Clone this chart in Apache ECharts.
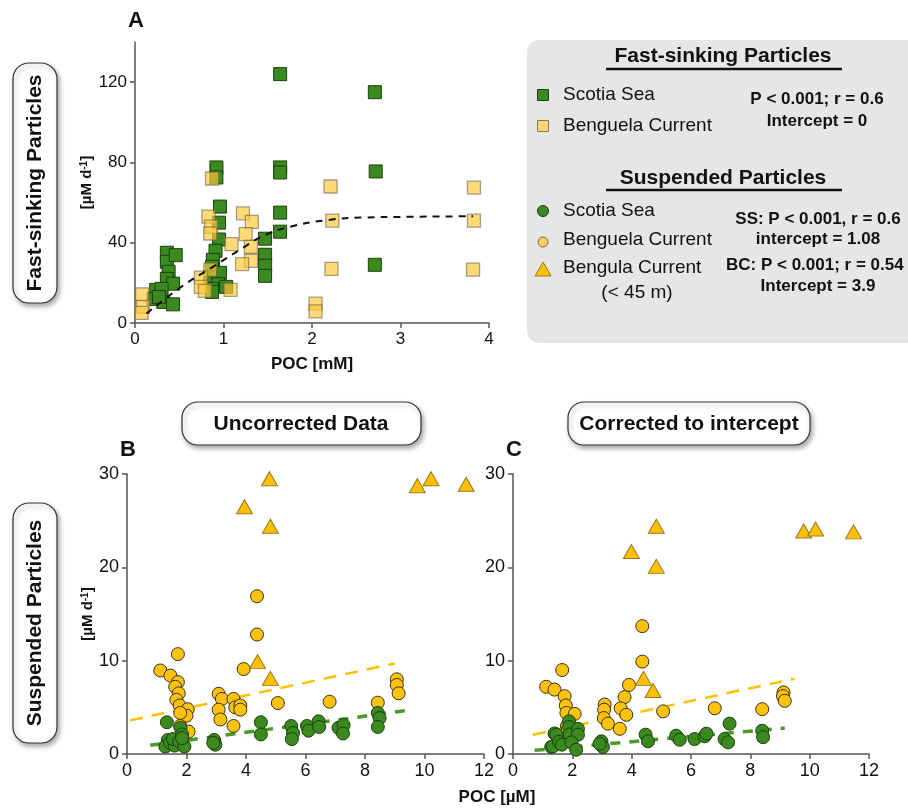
<!DOCTYPE html>
<html>
<head>
<meta charset="utf-8">
<script src="https://cdn.jsdelivr.net/npm/echarts@6/dist/echarts.min.js"></script>
<style>html,body{margin:0;padding:0;background:#fff;}#c{width:908px;height:808px;}</style>
</head>
<body>
<div id="c"></div>
<script>
// ---------- Panel A: fast-sinking particles (POC [mM] vs µM d-1) ----------
const fastScotia = [[1.64,124],[2.71,115],[1.64,77.5],[1.64,75],[2.72,75.5],[1.64,55],[1.64,45.5],[2.71,29],
  [1.47,42],[1.47,34],[1.47,28.5],[1.47,23.5],
  [0.92,77.5],[0.92,72.5],[0.96,58],[0.95,50],[0.95,41.6],[0.91,36],[0.88,31.5],[0.87,28],[0.96,25],[0.85,23],
  [0.94,19.3],[0.87,17],[1.03,18],[0.87,15.5],
  [0.36,35],[0.36,30.5],[0.46,33.8],[0.38,25.5],[0.36,22],[0.43,19.6],[0.24,16.5],[0.21,12],[0.32,10.5],[0.43,9.3],[0.3,17],[0.27,13]];
const fastBenguela = [[0.87,72],[0.83,53],[0.86,48],[0.85,44.6],[1.22,54.6],[1.32,50.4],[1.25,44.3],[1.09,39.3],[1.31,38],
  [1.31,31],[1.21,29.3],[0.85,26.6],[0.745,22.6],[0.745,18],[0.79,16],[1.08,16.5],[0.08,14.3],[0.09,8],[0.075,5],
  [2.21,68],[2.23,51],[2.22,27],[3.83,67.4],[3.83,51],[3.82,26.6],[2.04,9.7],[2.04,5.8]];
const fastFit = [[0.13,4.7],[0.51,17.6],[0.88,28],[1.19,36.6],[1.45,43.4],[1.75,47.9],[2.16,51.2],[2.61,52.6],[3.07,52.9],[3.82,53.2]];

// ---------- Panel B: suspended particles, uncorrected (POC [µM]) ----------
const uncScotia = [[1.34,3.4],[1.37,1.5],[1.29,0.8],[1.45,1.2],[1.6,0.9],[1.55,1.6],[1.8,2.8],[1.85,2.1],[1.75,1.4],
  [1.93,0.8],[1.85,1.7],[2.93,1.5],[2.97,1.0],[2.9,1.2],[4.5,3.4],[4.5,2.1],[5.52,3.0],[5.58,2.25],[5.54,1.6],
  [6.05,3.0],[6.1,2.5],[6.44,3.5],[6.46,2.9],[7.11,2.8],[7.28,3.1],[7.26,2.2],[8.43,4.4],[8.49,3.85],[8.43,2.9]];
const uncBenguela = [[1.12,8.95],[1.46,8.4],[1.71,10.7],[1.71,7.7],[1.62,7.2],[1.74,6.5],[1.66,5.8],[1.77,5.2],[2.04,4.8],
  [2.0,4.1],[1.79,4.4],[1.79,3.0],[2.07,2.4],[1.79,1.7],[3.08,6.45],[3.19,5.9],[3.08,4.75],[3.14,3.7],[3.58,5.9],
  [3.64,5.0],[3.81,5.2],[3.81,4.75],[3.58,3.0],[3.92,9.1],[4.37,16.9],[4.37,12.8],[5.07,5.46],[6.81,5.6],[8.43,5.5],
  [9.07,8.0],[9.07,7.4],[9.13,6.5]];
const uncShallow = [[3.95,26.5],[4.79,29.5],[4.82,24.4],[4.39,9.9],[4.82,8.1],[9.76,28.75],[10.22,29.5],[11.4,28.9]];
const uncFitBC = [[0.1,3.6],[9.0,9.7]];
const uncFitSS = [[0.78,0.93],[9.41,4.67]];

// ---------- Panel C: suspended particles, corrected to intercept ----------
const corScotia = [[1.4,2.2],[1.29,0.75],[1.46,2.07],[1.35,0.82],[1.55,1.3],[1.65,1.0],[1.89,3.5],[1.89,2.9],[1.91,2.1],
  [2.19,2.7],[2.19,2.07],[1.97,1.25],[2.13,0.46],[2.98,1.36],[3.03,0.75],[2.92,1.1],[4.47,2.07],[4.55,1.36],[5.5,1.96],
  [5.62,1.53],[6.12,1.6],[6.46,1.9],[6.52,2.18],[7.13,1.6],[7.25,1.25],[7.3,3.25],[8.4,2.5],[8.43,1.8]];
const corBenguela = [[1.12,7.2],[1.4,6.9],[1.66,9.0],[1.74,6.2],[1.78,5.2],[1.8,4.4],[2.08,4.3],[1.82,3.0],[1.78,1.7],
  [1.85,2.6],[3.09,5.3],[3.07,4.75],[3.06,3.85],[3.2,3.25],[3.76,6.1],[3.63,4.9],[3.82,4.2],[3.6,2.7],[3.91,7.4],
  [4.36,13.7],[4.36,9.9],[5.06,4.57],[6.8,4.9],[8.4,4.8],[9.12,6.6],[9.1,6.2],[9.16,5.7]];
const corShallow = [[3.99,21.7],[4.83,24.4],[4.83,20.1],[4.40,8.1],[4.72,6.8],[9.8,23.9],[10.2,24.1],[11.48,23.8]];
const corFitBC = [[0.67,2.07],[9.49,8.06]];
const corFitSS = [[0.73,0.39],[9.16,2.78]];

// ---------- tick labels ----------
const ticksAX = [0,1,2,3,4];
const ticksAY = [0,40,80,120];
const ticksBX = [0,2,4,6,8,10,12];
const ticksBY = [0,10,20,30];

const FONT = '"Liberation Sans", Arial, sans-serif';
const GREEN = '#3b8a1f', GREEN_B = '#1c3f0e';
const GOLD = '#ffc20f';

function axisStyle(extra) {
  return Object.assign({
    axisLine: {show: true, lineStyle: {color: '#555', width: 1.5}},
    axisTick: {show: true, length: 5, lineStyle: {color: '#555', width: 1.5}},
    splitLine: {show: false},
    axisLabel: {color: '#111', fontSize: 17, fontFamily: FONT, margin: 8}
  }, extra);
}
const supName = {
  fontFamily: FONT, fontWeight: 'bold', fontSize: 15, color: '#111',
  rich: {sup: {fontSize: 10, fontWeight: 'bold', fontFamily: FONT, color: '#111', verticalAlign: 'top'}}
};

const chart = echarts.init(document.getElementById('c'), null, {renderer: 'canvas'});

function t(x, y, text, font, align, rot) {
  return {type: 'text', x: x, y: y, rotation: rot || 0, z: 20,
    style: {text: text, font: font, fill: '#111', textAlign: align || 'center', textVerticalAlign: 'middle',
            align: align || 'center', verticalAlign: 'middle'}};
}
function box(x, y, w, h, r) {
  return {type: 'rect', z: 5, shape: {x: x, y: y, width: w, height: h, r: r},
    style: {fill: '#fff', stroke: '#333', lineWidth: 1.2, shadowBlur: 5, shadowOffsetX: 2, shadowOffsetY: 3, shadowColor: 'rgba(0,0,0,0.35)'}};
}
const B21 = 'bold 21px ' + FONT, R19 = '19px ' + FONT, B17 = 'bold 17px ' + FONT, B22 = 'bold 22px ' + FONT;

const graphics = [
  // legend panel
  {type: 'rect', z: 1, shape: {x: 527, y: 40, width: 420, height: 303, r: 12}, style: {fill: '#e6e6e6'}},
  t(723, 56, 'Fast-sinking Particles', B21),
  {type: 'line', z: 20, shape: {x1: 606, y1: 69, x2: 842, y2: 69}, style: {stroke: '#111', lineWidth: 2.5}},
  {type: 'rect', z: 20, shape: {x: 537.5, y: 89.5, width: 11, height: 11}, style: {fill: GREEN, stroke: GREEN_B, lineWidth: 1}},
  {type: 'rect', z: 20, shape: {x: 537.5, y: 120.5, width: 11, height: 11}, style: {fill: '#ffd873', stroke: '#8a7a5a', lineWidth: 1}},
  t(563, 95, 'Scotia Sea', R19, 'left'),
  t(563, 126, 'Benguela Current', R19, 'left'),
  t(817, 99, 'P < 0.001; r = 0.6', B17),
  t(817, 121, 'Intercept = 0', B17),
  t(723, 178, 'Suspended Particles', B21),
  {type: 'line', z: 20, shape: {x1: 606, y1: 190, x2: 842, y2: 190}, style: {stroke: '#111', lineWidth: 2.5}},
  {type: 'circle', z: 20, shape: {cx: 543, cy: 211, r: 5.5}, style: {fill: GREEN, stroke: GREEN_B, lineWidth: 1}},
  {type: 'circle', z: 20, shape: {cx: 543, cy: 242, r: 5}, style: {fill: '#ffd060', stroke: '#7a6a3a', lineWidth: 1}},
  {type: 'polygon', z: 20, shape: {points: [[543, 262], [551, 276], [535, 276]]}, style: {fill: '#ffc000', stroke: '#9a7a20', lineWidth: 1}},
  t(563, 211, 'Scotia Sea', R19, 'left'),
  t(563, 240, 'Benguela Current', R19, 'left'),
  t(563, 268, 'Bengula Current', R19, 'left'),
  t(637, 293, '(< 45 m)', R19),
  t(818, 219, 'SS: P < 0.001, r = 0.6', B17),
  t(818, 239, 'intercept = 1.08', B17),
  t(726, 265, 'BC: P < 0.001; r = 0.54', B17, 'left'),
  t(818, 286, 'Intercept = 3.9', B17),
  // side / top label boxes
  box(13, 63, 44, 240, 16),
  t(35, 183, 'Fast-sinking Particles', B21, 'center', Math.PI / 2),
  box(13, 503, 44, 240, 16),
  t(35, 623, 'Suspended Particles', B21, 'center', Math.PI / 2),
  box(182, 402, 239, 43, 16),
  t(301, 424, 'Uncorrected Data', B21),
  box(568, 402, 242, 43, 16),
  t(689, 424, 'Corrected to intercept', B21),
  // panel letters and shared axis title
  t(136, 21, 'A', B22),
  t(128, 450, 'B', B22),
  t(514, 450, 'C', B22),
  t(497, 797, 'POC [µM]', B17)
];

const option = {
  animation: false,
  backgroundColor: '#fff',
  grid: [
    {left: 135, top: 42, width: 354, height: 281, outerBoundsMode: 'none', containLabel: false},
    {left: 127, top: 474, width: 357, height: 280, outerBoundsMode: 'none', containLabel: false},
    {left: 513, top: 474, width: 356, height: 280, outerBoundsMode: 'none', containLabel: false}
  ],
  xAxis: [
    axisStyle({gridIndex: 0, type: 'value', min: 0, max: 4, interval: 1,
      name: 'POC [mM]', nameLocation: 'middle', nameGap: 33,
      nameTextStyle: {fontFamily: FONT, fontWeight: 'bold', fontSize: 17, color: '#111'},
      axisLabel: {color: '#111', fontSize: 17, fontFamily: FONT, margin: 8, customValues: ticksAX},
      axisTick: {show: true, length: 5, lineStyle: {color: '#555', width: 1.5}, customValues: ticksAX}}),
    axisStyle({gridIndex: 1, type: 'value', min: 0, max: 12, interval: 2,
      axisLabel: {color: '#111', fontSize: 18, fontFamily: FONT, margin: 8, customValues: ticksBX},
      axisTick: {show: true, length: 5, lineStyle: {color: '#555', width: 1.5}, customValues: ticksBX}}),
    axisStyle({gridIndex: 2, type: 'value', min: 0, max: 12, interval: 2,
      axisLabel: {color: '#111', fontSize: 18, fontFamily: FONT, margin: 8, customValues: ticksBX},
      axisTick: {show: true, length: 5, lineStyle: {color: '#555', width: 1.5}, customValues: ticksBX}})
  ],
  yAxis: [
    axisStyle({gridIndex: 0, type: 'value', min: 0, max: 140, interval: 40,
      name: '[µM d{sup|-1}]', nameLocation: 'middle', nameRotate: 90, nameGap: 40, nameTextStyle: supName,
      axisLabel: {color: '#111', fontSize: 17, fontFamily: FONT, margin: 8, customValues: ticksAY},
      axisTick: {show: true, length: 5, lineStyle: {color: '#555', width: 1.5}, customValues: ticksAY}}),
    axisStyle({gridIndex: 1, type: 'value', min: 0, max: 30, interval: 10,
      name: '[µM d{sup|-1}]', nameLocation: 'middle', nameRotate: 90, nameGap: 32, nameTextStyle: supName,
      axisLabel: {color: '#111', fontSize: 18, fontFamily: FONT, margin: 8, customValues: ticksBY},
      axisTick: {show: true, length: 5, lineStyle: {color: '#555', width: 1.5}, customValues: ticksBY}}),
    axisStyle({gridIndex: 2, type: 'value', min: 0, max: 30, interval: 10,
      axisLabel: {color: '#111', fontSize: 18, fontFamily: FONT, margin: 8, customValues: ticksBY},
      axisTick: {show: true, length: 5, lineStyle: {color: '#555', width: 1.5}, customValues: ticksBY}})
  ],
  graphic: graphics,
  series: [
    {name: 'Fast Scotia Sea', type: 'scatter', xAxisIndex: 0, yAxisIndex: 0, data: fastScotia, symbol: 'rect', symbolSize: 13,
      itemStyle: {color: GREEN, borderColor: GREEN_B, borderWidth: 1, opacity: 1}, z: 2, emphasis: {disabled: true}},
    {name: 'Fast Benguela Current', type: 'scatter', xAxisIndex: 0, yAxisIndex: 0, data: fastBenguela, symbol: 'rect', symbolSize: 13,
      itemStyle: {color: 'rgba(255,200,55,0.68)', borderColor: 'rgba(110,100,80,0.6)', borderWidth: 1.3, opacity: 1}, z: 3, emphasis: {disabled: true}},
    {name: 'Fast fit', type: 'line', xAxisIndex: 0, yAxisIndex: 0, data: fastFit, smooth: true, showSymbol: false,
      lineStyle: {color: '#111', width: 2, type: [7, 6]}, z: 4, silent: true},

    {name: 'Unc BC fit', type: 'line', xAxisIndex: 1, yAxisIndex: 1, data: uncFitBC, showSymbol: false,
      lineStyle: {color: '#ffc000', width: 2.5, type: [13, 9]}, z: 1, silent: true},
    {name: 'Unc SS fit', type: 'line', xAxisIndex: 1, yAxisIndex: 1, data: uncFitSS, showSymbol: false,
      lineStyle: {color: '#4a9a28', width: 3.5, type: [10, 9]}, z: 1, silent: true},
    {name: 'Unc Benguela', type: 'scatter', xAxisIndex: 1, yAxisIndex: 1, data: uncBenguela, symbol: 'circle', symbolSize: 13,
      itemStyle: {color: GOLD, borderColor: '#3a3216', borderWidth: 1, opacity: 1}, z: 2, emphasis: {disabled: true}},
    {name: 'Unc Scotia', type: 'scatter', xAxisIndex: 1, yAxisIndex: 1, data: uncScotia, symbol: 'circle', symbolSize: 13,
      itemStyle: {color: GREEN, borderColor: GREEN_B, borderWidth: 1, opacity: 1}, z: 3, emphasis: {disabled: true}},
    {name: 'Unc Benguela <45 m', type: 'scatter', xAxisIndex: 1, yAxisIndex: 1, data: uncShallow, symbol: 'triangle', symbolSize: [16, 14],
      itemStyle: {color: '#ffc000', borderColor: '#9a7a20', borderWidth: 1, opacity: 1}, z: 4, emphasis: {disabled: true}},

    {name: 'Cor BC fit', type: 'line', xAxisIndex: 2, yAxisIndex: 2, data: corFitBC, showSymbol: false,
      lineStyle: {color: '#ffc000', width: 2.5, type: [13, 9]}, z: 1, silent: true},
    {name: 'Cor SS fit', type: 'line', xAxisIndex: 2, yAxisIndex: 2, data: corFitSS, showSymbol: false,
      lineStyle: {color: '#4a9a28', width: 3.5, type: [10, 9]}, z: 1, silent: true},
    {name: 'Cor Benguela', type: 'scatter', xAxisIndex: 2, yAxisIndex: 2, data: corBenguela, symbol: 'circle', symbolSize: 13,
      itemStyle: {color: GOLD, borderColor: '#3a3216', borderWidth: 1, opacity: 1}, z: 2, emphasis: {disabled: true}},
    {name: 'Cor Scotia', type: 'scatter', xAxisIndex: 2, yAxisIndex: 2, data: corScotia, symbol: 'circle', symbolSize: 13,
      itemStyle: {color: GREEN, borderColor: GREEN_B, borderWidth: 1, opacity: 1}, z: 3, emphasis: {disabled: true}},
    {name: 'Cor Benguela <45 m', type: 'scatter', xAxisIndex: 2, yAxisIndex: 2, data: corShallow, symbol: 'triangle', symbolSize: [16, 14],
      itemStyle: {color: '#ffc000', borderColor: '#9a7a20', borderWidth: 1, opacity: 1}, z: 4, emphasis: {disabled: true}}
  ]
};
chart.setOption(option);
</script>
</body>
</html>
